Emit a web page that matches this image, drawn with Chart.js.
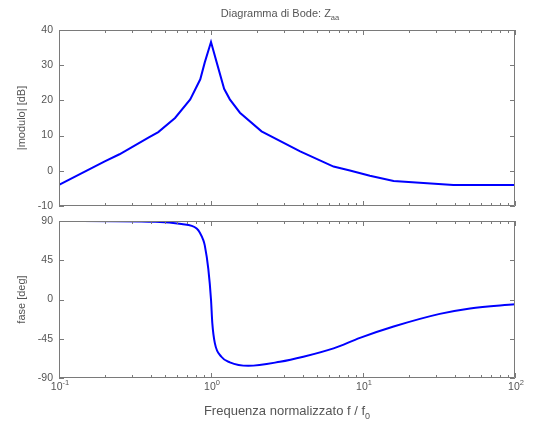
<!DOCTYPE html>
<html>
<head>
<meta charset="utf-8">
<title>Diagramma di Bode</title>
<script src="https://cdn.jsdelivr.net/npm/chart.js@4.4.1/dist/chart.umd.min.js"></script>
<style>
  body { margin: 0; background: #fff; }
  #wrap { position: relative; width: 534px; height: 425px; }
  #wrap canvas { position: absolute; left: 0; }
</style>
</head>
<body>
<div id="wrap">
  <canvas id="magChart" width="534" height="219" style="top:0;width:534px;height:219px"></canvas>
  <canvas id="phaseChart" width="534" height="217" style="top:208px;width:534px;height:217px"></canvas>
</div>
<script>
// modulo (dB) vs normalised frequency
const magFreq = [0.1, 0.2, 0.25, 0.39, 0.45, 0.58, 0.73, 0.85, 0.91, 1.0, 1.09, 1.22, 1.33, 1.55, 2.15, 3.86, 6.4, 8.2, 11.1, 15.9, 39.3, 100];
const magDb = [-4, 2.7, 4.7, 9.5, 11, 15, 20.3, 26, 30.8, 36.6, 30.8, 23.3, 20.3, 16.5, 11.2, 5.5, 1.2, 0.1, -1.4, -2.9, -4, -4];

// fase (deg) vs normalised frequency
const phaseFreq = [0.1, 0.43, 0.64, 0.805, 0.89, 0.91, 0.96, 1.0, 1.02, 1.06, 1.17, 1.33, 1.76, 2.84, 4.05, 6.4, 9.55, 15.9, 32, 50.6, 100];
const phaseDeg = [90, 89, 86.5, 81.5, 68, 62, 35, 0, -27, -50, -65.6, -72, -76, -71.4, -65.6, -56, -44, -31, -16.5, -10.2, -5.5];

const decades = [0.1, 1, 10, 100];
const decadeExp = ['-1', '0', '1', '2'];
const magTicks = [-10, 0, 10, 20, 30, 40];
const phaseTicks = [-90, -45, 0, 45, 90];

const FONT = '"Liberation Sans", Arial, Helvetica, sans-serif';
const TEXT = '#555';
const AXIS = '#7a7a7a';

function toPoints(xs, ys) {
  return xs.map((x, i) => ({ x, y: ys[i] }));
}

// draw a run of text pieces with sub/superscripts
function drawRich(ctx, x, y, parts) {
  let w = 0;
  parts.forEach(p => {
    ctx.font = p.size + 'px ' + FONT;
    p.w = ctx.measureText(p.text).width;
    w += p.w;
  });
  let cx = x - w / 2;
  ctx.textAlign = 'left';
  ctx.textBaseline = 'alphabetic';
  parts.forEach(p => {
    ctx.font = p.size + 'px ' + FONT;
    ctx.fillText(p.text, cx, y + (p.dy || 0));
    cx += p.w;
  });
}

function vLabel(ctx, text, x, y) {
  ctx.save();
  ctx.translate(x, y);
  ctx.rotate(-Math.PI / 2);
  ctx.font = '11px ' + FONT;
  ctx.textAlign = 'center';
  ctx.textBaseline = 'middle';
  ctx.fillText(text, 0, 0);
  ctx.restore();
}

// box, inward ticks on all four sides
const boxAxes = {
  id: 'boxAxes',
  afterDraw(chart, args, opts) {
    const { ctx, chartArea: a, scales } = chart;
    const xs = scales.x, ys = scales.y;
    ctx.save();
    ctx.strokeStyle = AXIS;
    ctx.lineWidth = 1;
    ctx.beginPath();
    ctx.rect(a.left + 0.5, a.top + 0.5, a.right - a.left - 1, a.bottom - a.top - 1);

    decades.forEach((d, i) => {
      const px = Math.round(xs.getPixelForValue(d)) + 0.5;
      ctx.moveTo(px, a.bottom); ctx.lineTo(px, a.bottom - 5);
      ctx.moveTo(px, a.top); ctx.lineTo(px, a.top + 5);
      if (i < decades.length - 1) {
        for (let k = 2; k <= 9; k++) {
          const mx = Math.round(xs.getPixelForValue(d * k)) + 0.5;
          ctx.moveTo(mx, a.bottom); ctx.lineTo(mx, a.bottom - 3);
          ctx.moveTo(mx, a.top); ctx.lineTo(mx, a.top + 3);
        }
      }
    });
    opts.yTicks.forEach(v => {
      const py = Math.round(ys.getPixelForValue(v)) + 0.5;
      ctx.moveTo(a.left, py); ctx.lineTo(a.left + 5, py);
      ctx.moveTo(a.right, py); ctx.lineTo(a.right - 5, py);
    });
    ctx.stroke();

    ctx.fillStyle = TEXT;
    vLabel(ctx, opts.yTitle, 22, (a.top + a.bottom) / 2);

    const mid = (a.left + a.right) / 2;
    if (opts.title) {
      drawRich(ctx, mid - 7, 16.5, [
        { text: 'Diagramma di Bode: Z', size: 11 },
        { text: 'aa', size: 7.5, dy: 3 }
      ]);
    }
    if (opts.xLabels) {
      decades.forEach((d, i) => {
        const px = xs.getPixelForValue(d);
        drawRich(ctx, px + 1, a.bottom + 12, [
          { text: '10', size: 10.5 },
          { text: decadeExp[i], size: 7.5, dy: -5 }
        ]);
      });
      drawRich(ctx, mid, a.bottom + 37, [
        { text: 'Frequenza normalizzato f / f', size: 13 },
        { text: '0', size: 9, dy: 4 }
      ]);
    }
    ctx.restore();
  }
};

function makeChart(id, points, yMin, yMax, step, padding, extra, smooth) {
  return new Chart(document.getElementById(id), {
    type: 'line',
    data: {
      datasets: [{
        data: points,
        borderColor: '#0000ff',
        borderWidth: 2,
        pointRadius: 0,
        fill: false,
        tension: 0,
        cubicInterpolationMode: smooth ? 'monotone' : 'default'
      }]
    },
    options: {
      responsive: false,
      animation: false,
      layout: { padding },
      plugins: {
        legend: { display: false },
        tooltip: { enabled: false },
        boxAxes: extra
      },
      scales: {
        x: {
          type: 'logarithmic',
          min: 0.1,
          max: 100,
          display: false
        },
        y: {
          min: yMin,
          max: yMax,
          afterFit(s) { s.width = 59; },
          afterBuildTicks(s) {
            s.ticks = extra.yTicks.map(v => ({ value: v }));
          },
          grid: { display: false, drawTicks: false },
          border: { display: false },
          ticks: {
            stepSize: step,
            padding: 6,
            color: TEXT,
            font: { size: 10.5, family: FONT }
          }
        }
      }
    },
    plugins: [boxAxes]
  });
}

makeChart('magChart', toPoints(magFreq, magDb), -10, 40, 10,
  { left: 0, right: 19, top: 30, bottom: 13 },
  { yTicks: magTicks, yTitle: '|modulo| [dB]', title: true }, false);

makeChart('phaseChart', toPoints(phaseFreq, phaseDeg), -90, 90, 45,
  { left: 0, right: 19, top: 13, bottom: 47 },
  { yTicks: phaseTicks, yTitle: 'fase [deg]', xLabels: true }, true);
</script>
</body>
</html>
